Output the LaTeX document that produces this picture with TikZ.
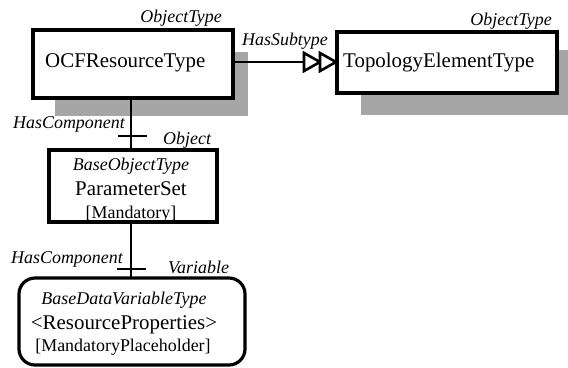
\documentclass[tikz,border=0pt]{standalone}
\usepackage{fontspec}
\setmainfont{Liberation Serif}
\begin{document}
\begin{tikzpicture}[x=1bp,y=-1bp,
  typebox/.style={draw,line width=3.2bp,fill=white},
  main/.style={font=\fontsize{21}{24}\selectfont},
  lbl/.style={font=\fontsize{18}{20}\selectfont\itshape,inner sep=0pt},
  conn/.style={line width=2.3bp},
  tri/.style={draw,line width=2.6bp,fill=white,line join=miter}]
\useasboundingbox (0,0) rectangle (568,367);
% shadows
\fill[black!35] (55,52) rectangle (248,116);
\fill[black!35] (361,50) rectangle (568,115);
% boxes
\draw[typebox] (33,30) rectangle (233,98);
\node[main,anchor=west,inner sep=0pt] (ocf) at (45,63) {OCFResourceType};
\coordinate (ocfE) at (233,62);
\coordinate (ocfS) at (131,98);
\draw[typebox] (337,32) rectangle (557,93);
\node[main,anchor=west,inner sep=0pt] (topo) at (343,62) {TopologyElementType};
\coordinate (topoW) at (337,62);
\node[lbl,anchor=base east] (ot1) at (222,22) {ObjectType};
\node[lbl,anchor=base east] (ot2) at (552,25) {ObjectType};
% subtype connector
\coordinate (t1) at (304,62);
\draw[line width=1.5bp] (ocfE) -- (t1);
\draw[tri] (304,53) -- (320,62) -- (304,71) -- cycle;
\draw[tri] (320,53) -- (336,62) -- (320,71) -- cycle;
\node[lbl,anchor=base west] (hs) at (242,45) {HasSubtype};
% ParameterSet box
\draw[typebox] (49,150) rectangle (217,222);
\node[lbl,anchor=base] (bot) at (131,170) {BaseObjectType};
\node[main,anchor=base,inner sep=0pt] (ps) at (131,195) {ParameterSet};
\node[font=\fontsize{18}{20}\selectfont,anchor=base,inner sep=0pt] (mand) at (131,218) {[Mandatory]};
\coordinate (psN) at (131,150);
\coordinate (psS) at (131,222);
\draw[conn] (ocfS) -- (psN);
\draw[conn] (118,136) -- (147,136);
\node[lbl,anchor=base east] (hc1) at (125,128) {HasComponent};
\node[lbl,anchor=base west] (obj) at (163,144) {Object};
% variable box
\draw[typebox,rounded corners=16bp] (19,278) rectangle (245,365);
\coordinate (varN) at (131,278);
\draw[conn] (psS) -- (varN);
\draw[conn] (117,269) -- (146,269);
\node[lbl,anchor=base east] (hc2) at (123,263) {HasComponent};
\node[lbl,anchor=base west] (var) at (168,273) {Variable};
\node[lbl,anchor=base] (bdvt) at (124,304) {BaseDataVariableType};
\node[main,anchor=base,inner sep=0pt] (rp) at (124,329) {<ResourceProperties>};
\node[font=\fontsize{18}{20}\selectfont,anchor=base,inner sep=0pt] (mp) at (123,351) {[MandatoryPlaceholder]};
\end{tikzpicture}
\end{document}
